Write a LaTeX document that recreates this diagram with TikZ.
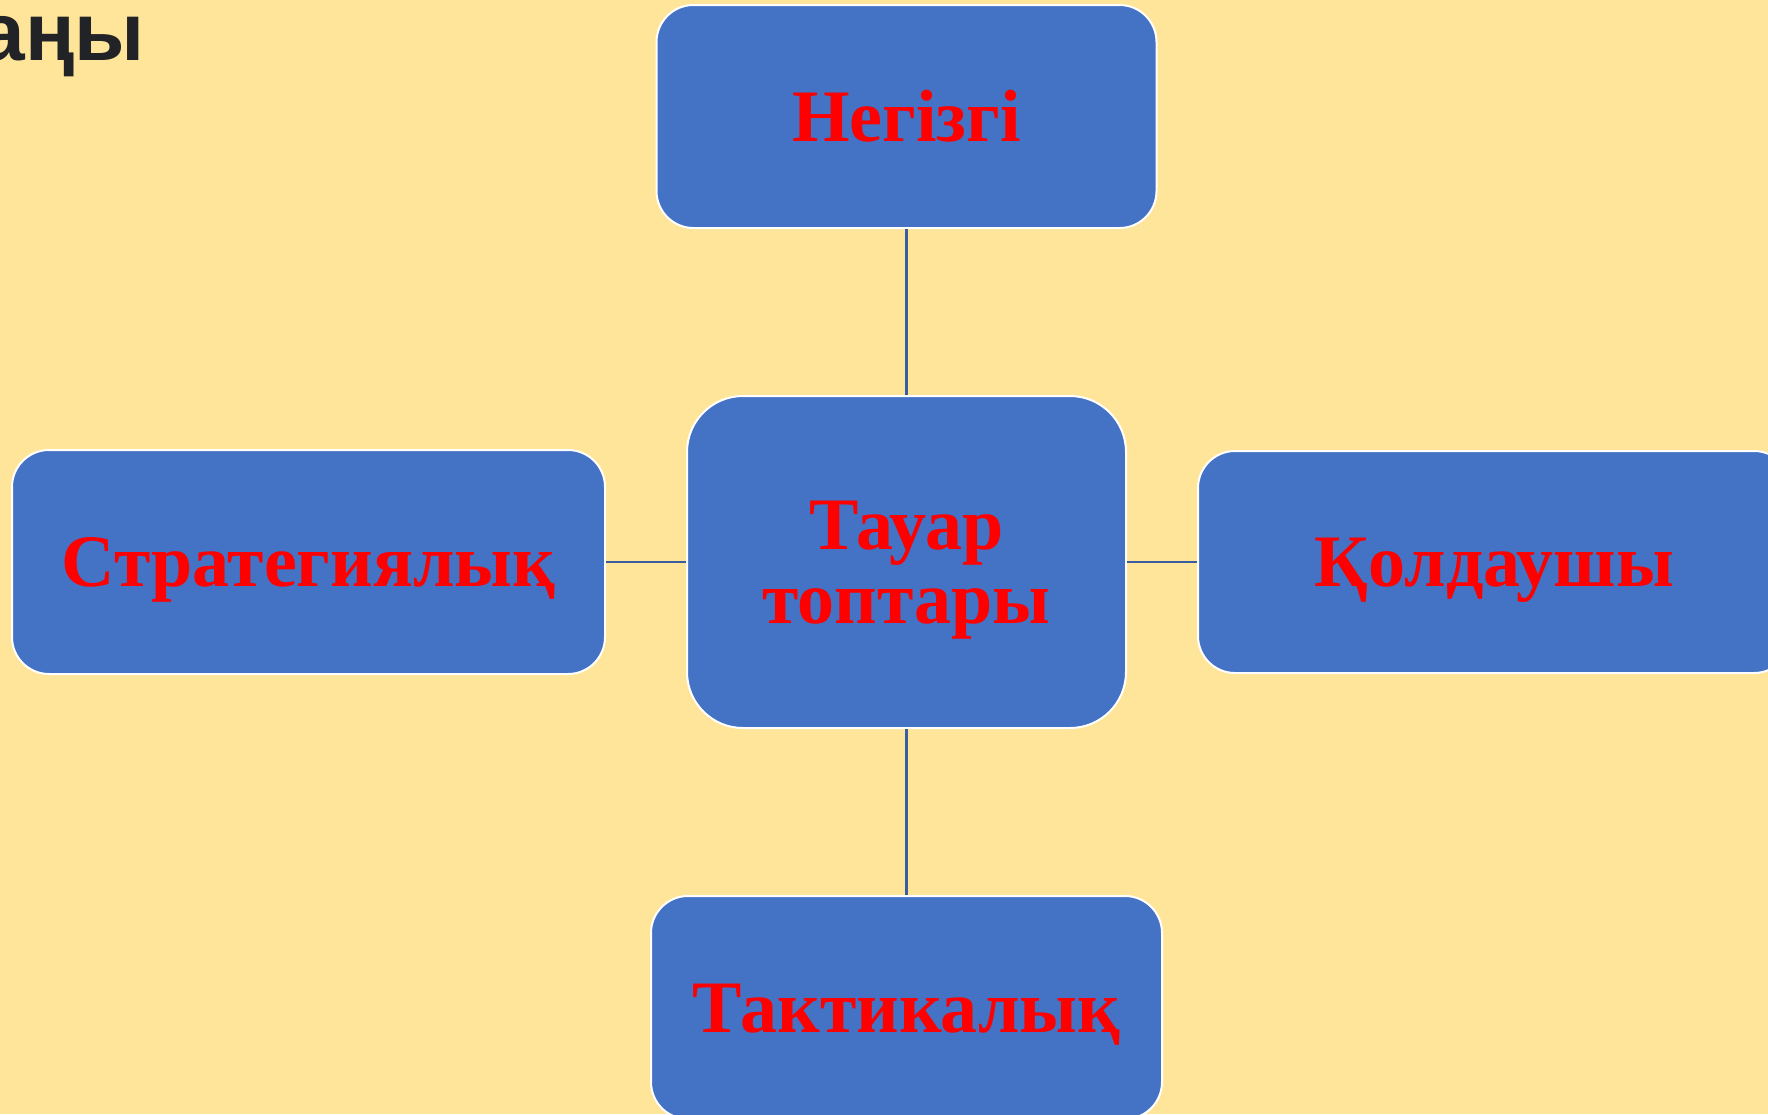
\documentclass[tikz,border=0pt]{standalone}
\usepackage{fontspec}
\setmainfont{Liberation Serif}
\newfontfamily\headfont{Liberation Sans}
\usetikzlibrary{positioning}

\definecolor{paper}{HTML}{FFE599}
\definecolor{boxblue}{HTML}{4472C4}
\definecolor{linkblue}{HTML}{3A5DA0}
\definecolor{headgray}{HTML}{212326}

\tikzset{
  box/.style={draw=white, line width=2pt, fill=boxblue, rounded corners=37pt,
    inner sep=0pt, text=red, text height=49pt, text depth=0pt,
    font=\bfseries\fontsize{74}{74}\selectfont},
  link/.style={draw=linkblue, line width=2.6pt}
}

\begin{document}
\begin{tikzpicture}[x=1pt,y=-1pt]
\fill[paper] (0,0) rectangle (1768,1114);
\useasboundingbox (0,0) rectangle (1768,1114);

% title remainder, cut at the left edge
\node[anchor=base east, inner sep=0pt, text=headgray,
  font=\headfont\bfseries\fontsize{82}{82}\selectfont] (title) at (145,60) {аңы};

% middle box and the four around it
\node[box, rounded corners=56pt, minimum width=439pt, minimum height=332pt,
  text height=123pt] (tauar) at (906.5,562)
  {\begin{tabular}[b]{@{}c@{}}Тауар\\топтары\end{tabular}};
\node[box, minimum width=500pt, minimum height=223pt, above=166pt of tauar] (negizgi) {Негізгі};
\node[box, minimum width=593pt, minimum height=224pt, left=80pt of tauar] (strat) {Стратегиялық};
\node[box, minimum width=593pt, minimum height=222pt, right=70pt of tauar] (koldau) {Қолдаушы};
\node[box, minimum width=511pt, minimum height=223pt, below=166pt of tauar] (taktika) {Тактикалық};

\draw[link] (tauar) -- (negizgi);
\draw[link] (tauar) -- (strat);
\draw[link] (tauar) -- (koldau);
\draw[link] (tauar) -- (taktika);
\end{tikzpicture}
\end{document}
